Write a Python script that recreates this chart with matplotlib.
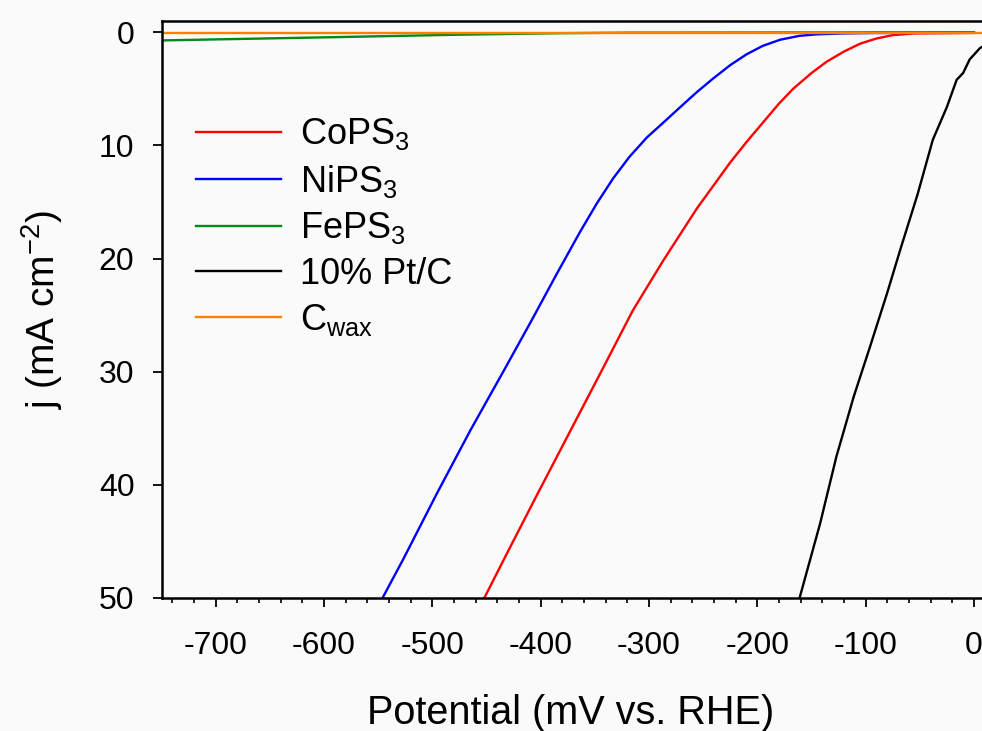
import numpy as np
import matplotlib
matplotlib.use("Agg")
import matplotlib.pyplot as plt
from matplotlib.ticker import MultipleLocator

plt.rcParams['font.family'] = ['Liberation Sans', 'DejaVu Sans']
plt.rcParams['mathtext.fontset'] = 'custom'
plt.rcParams['mathtext.rm'] = 'Liberation Sans'
plt.rcParams['mathtext.it'] = 'Liberation Sans'
plt.rcParams['mathtext.default'] = 'regular'
plt.rcParams['axes.unicode_minus'] = False

# polarisation curves (potential in mV vs RHE, j in mA cm-2)
cops3_v = [-452, -434, -404, -373, -342, -315, -287, -256, -225, -210, -195, -180, -167,
           -150, -136, -120, -105, -90, -75, -55, 0]
cops3_j = [50, 46.6, 41.0, 35.3, 29.6, 24.6, 20.2, 15.6, 11.5, 9.7, 8.0, 6.3, 5.0,
           3.6, 2.6, 1.7, 1.0, 0.55, 0.25, 0.1, 0.05]

nips3_v = [-546, -527, -496, -465, -434, -408, -386, -364, -348, -333, -318, -302, -287,
           -271, -256, -241, -225, -210, -195, -179, -161, -145, -120, -90, 0]
nips3_j = [50, 46.6, 40.8, 35.2, 29.9, 25.4, 21.5, 17.7, 15.1, 12.9, 11.0, 9.3, 8.0,
           6.6, 5.3, 4.1, 2.9, 1.95, 1.2, 0.66, 0.31, 0.18, 0.1, 0.06, 0.05]

feps3_v = [-750, -585, -480, -382, -320, 0]
feps3_j = [0.72, 0.42, 0.22, 0.08, 0.03, 0.0]

ptc_v = [-161, -142, -127, -111, -96, -80, -68, -52, -38, -25, -16, -10, -4, 5.5, 9]
ptc_j = [50, 43.4, 37.5, 32.2, 27.8, 23.0, 19.2, 14.3, 9.5, 6.6, 4.2, 3.6, 2.4, 1.4, 1.2]

cwax_v = [-750, 0, 9]
cwax_j = [0.02, 0.02, 0.02]

labels = ['CoPS$_3$', 'NiPS$_3$', 'FePS$_3$', '10% Pt/C', 'C$_{wax}$']
colors = ['#ff0000', '#0000ff', '#008a1c', '#000000', '#ff8000']

fig = plt.figure(figsize=(9.82, 7.31), dpi=100)
fig.patch.set_facecolor('#fafafa')
ax = fig.add_axes([0.1645, 0.182, 0.8355, 0.7893])
ax.set_facecolor('#fafafa')

series = [(cops3_v, cops3_j), (nips3_v, nips3_j), (feps3_v, feps3_j),
          (ptc_v, ptc_j), (cwax_v, cwax_j)]
for (v, j), lab, c in zip(series, labels, colors):
    ax.plot(v, j, color=c, lw=1.7, label=lab)

ax.set_xlim(-750, 7.4)
ax.set_ylim(50, -1)
ax.xaxis.set_major_locator(MultipleLocator(100))
ax.xaxis.set_minor_locator(MultipleLocator(20))
ax.yaxis.set_major_locator(MultipleLocator(10))

for s in ['left', 'bottom', 'top']:
    ax.spines[s].set_linewidth(1.8)
ax.spines['right'].set_visible(False)

ax.tick_params(axis='both', which='major', direction='out', length=6.5, width=1.3,
               labelsize=23)
ax.tick_params(axis='x', which='major', pad=17)
ax.tick_params(axis='y', which='major', pad=13)
ax.tick_params(axis='x', which='minor', direction='out', length=3.6, width=1.2)
ax.tick_params(top=False, right=False)

ax.set_xlabel('Potential (mV vs. RHE)', fontsize=28.5)
ax.set_ylabel('j (mA cm$^{-2}$)', fontsize=28)
ax.xaxis.set_label_coords(0.498, -0.166)
ax.yaxis.set_label_coords(-0.118, 0.5)

ax.legend(loc='upper left', bbox_to_anchor=(0.025, 0.86), frameon=False,
          fontsize=26, handlelength=2.33, handletextpad=0.55, labelspacing=0.29,
          borderaxespad=0)

fig.savefig('out.png', dpi=100, facecolor=fig.get_facecolor())
